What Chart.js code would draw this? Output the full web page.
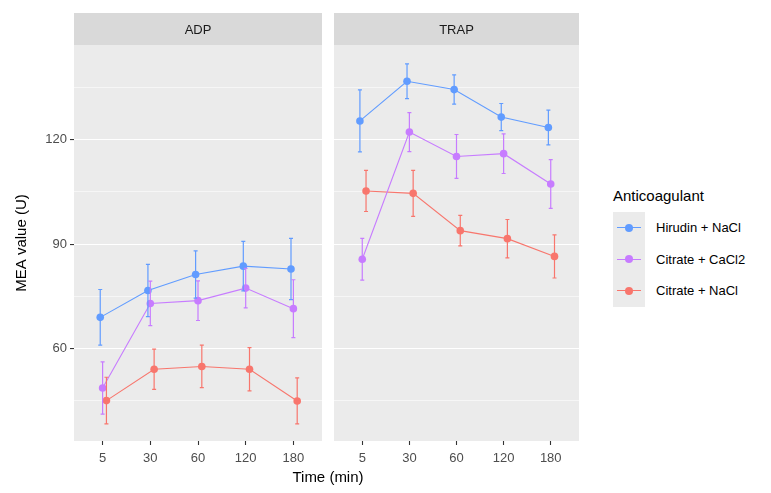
<!DOCTYPE html>
<html lang="en">
<head>
<meta charset="UTF-8">
<title>MEA value by time</title>
<script src="https://cdn.jsdelivr.net/npm/chart.js"></script>
<style>
  body { margin: 0; background: #fff; font-family: "Liberation Sans", Arial, sans-serif; }
  #wrap { position: relative; width: 771px; height: 493px; overflow: hidden; }
  .panel { position: absolute; top: 0; }
  #xtitle { position: absolute; left: 228px; width: 200px; top: 468px; text-align: center; font-size: 15px; color: #000; }
  #legend { position: absolute; left: 613px; top: 187px; }
  #legend .ttl { font-size: 15px; color: #000; height: 25px; line-height: 18px; }
  #legend .row { position: relative; height: 31.5px; }
  #legend .key { position: absolute; left: 0; top: 0; width: 32px; height: 31.5px; background: #ebebeb; }
  #legend .key i { position: absolute; left: 4px; top: 15px; width: 24px; height: 1.2px; }
  #legend .key b { position: absolute; left: 12px; top: 11.5px; width: 8px; height: 8px; border-radius: 50%; }
  #legend .lbl { position: absolute; left: 43px; top: 8px; font-size: 13px; color: #000; white-space: nowrap; }
</style>
</head>
<body>
<div id="wrap">
  <div class="panel" style="left:0"><canvas id="adp" width="326" height="493"></canvas></div>
  <div class="panel" style="left:330px"><canvas id="trap" width="253" height="493"></canvas></div>
  <div id="xtitle">Time (min)</div>
  <div id="legend"><div class="ttl">Anticoagulant</div></div>
</div>
<script>
const timeLabels = ['5', '30', '60', '120', '180'];
const groups = ['Hirudin + NaCl', 'Citrate + CaCl2', 'Citrate + NaCl'];
const colors = ['#619CFF', '#C77CFF', '#F8766D'];
const dodge = [-0.05, 0, 0.08];

// ADP panel: means and error half-widths
const adpHirudin = [69.0, 76.7, 81.3, 83.7, 82.9];
const adpHirudinErr = [8.0, 7.5, 6.8, 7.1, 8.8];
const adpCitCa = [48.7, 73.0, 73.8, 77.4, 71.5];
const adpCitCaErr = [7.5, 6.4, 5.7, 5.7, 8.3];
const adpCitNa = [45.1, 54.1, 54.9, 54.1, 45.0];
const adpCitNaErr = [6.7, 5.8, 6.1, 6.2, 6.6];

// TRAP panel
const trapHirudin = [125.4, 136.8, 134.4, 126.5, 123.5];
const trapHirudinErr = [8.9, 5.0, 4.2, 3.9, 5.0];
const trapCitCa = [85.7, 122.2, 115.2, 116.0, 107.3];
const trapCitCaErr = [6.0, 5.6, 6.3, 5.7, 7.0];
const trapCitNa = [105.3, 104.6, 93.9, 91.6, 86.5];
const trapCitNaErr = [5.9, 6.6, 4.4, 5.5, 6.2];

const yTicks = [45, 60, 75, 90, 105, 120, 135];
const yLabeled = [60, 90, 120];
const yMin = 33.5, yMax = 147.2;

const FONT = '"Liberation Sans", Arial, sans-serif';

function makeSets(series, errs) {
  return series.map((vals, k) => ({
    label: groups[k],
    data: vals.map((v, i) => ({ x: i + 1 + dodge[k], y: v })),
    err: errs[k],
    borderColor: colors[k],
    backgroundColor: colors[k],
    borderWidth: 1.1,
    pointRadius: 3.8,
    pointBorderWidth: 0,
    pointBackgroundColor: colors[k],
    tension: 0
  }));
}

// strip + panel background + error bars
const facetPlugin = {
  id: 'facet',
  beforeDraw(chart, args, opts) {
    const { ctx, chartArea: a } = chart;
    ctx.save();
    ctx.fillStyle = '#d9d9d9';
    ctx.fillRect(a.left, 13, a.right - a.left, a.top - 13);
    ctx.fillStyle = '#1a1a1a';
    ctx.font = '13px ' + FONT;
    ctx.textAlign = 'center';
    ctx.textBaseline = 'middle';
    ctx.fillText(opts.strip, (a.left + a.right) / 2, (13 + a.top) / 2 + 1);
    ctx.fillStyle = '#ebebeb';
    ctx.fillRect(a.left, a.top, a.right - a.left, a.bottom - a.top);
    ctx.restore();
  },
  afterDatasetsDraw(chart) {
    const { ctx, scales: { x, y } } = chart;
    ctx.save();
    chart.data.datasets.forEach((ds, k) => {
      ctx.strokeStyle = ds.borderColor;
      ctx.lineWidth = 1.2;
      ds.data.forEach((p, i) => {
        const px = x.getPixelForValue(p.x);
        const top = y.getPixelForValue(p.y + ds.err[i]);
        const bot = y.getPixelForValue(p.y - ds.err[i]);
        ctx.beginPath();
        ctx.moveTo(px, top); ctx.lineTo(px, bot);
        ctx.moveTo(px - 2, top); ctx.lineTo(px + 2, top);
        ctx.moveTo(px - 2, bot); ctx.lineTo(px + 2, bot);
        ctx.stroke();
      });
    });
    ctx.restore();
  }
};

function makeChart(id, strip, sets, showY) {
  return new Chart(document.getElementById(id), {
    type: 'line',
    data: { datasets: sets },
    plugins: [facetPlugin],
    options: {
      responsive: false,
      animation: false,
      layout: { padding: { top: 45, right: 2, left: 0, bottom: 0 } },
      plugins: { legend: { display: false }, tooltip: { enabled: false }, facet: { strip: strip } },
      scales: {
        x: {
          type: 'linear', min: 0.4, max: 5.6,
          afterBuildTicks: s => { s.ticks = timeLabels.map((t, i) => ({ value: i + 1 })); },
          afterFit: s => { s.height = 52; },
          border: { display: false },
          grid: { drawOnChartArea: false, tickLength: 4, tickColor: '#333', tickWidth: 1.1 },
          ticks: { padding: 6, color: '#4d4d4d', font: { family: FONT, size: 13 },
                   callback: v => timeLabels[v - 1] }
        },
        y: {
          type: 'linear', min: yMin, max: yMax,
          afterBuildTicks: s => { s.ticks = yTicks.map(v => ({ value: v })); },
          afterFit: s => { s.width = showY ? 74 : 0; },
          border: { display: false },
          grid: {
            color: '#ffffff',
            lineWidth: c => yLabeled.includes(c.tick.value) ? 1.1 : 0.55,
            drawTicks: showY, tickLength: 4, tickWidth: 1.1,
            tickColor: c => yLabeled.includes(c.tick.value) ? '#333' : 'rgba(0,0,0,0)'
          },
          ticks: { display: showY, padding: 3, color: '#4d4d4d', font: { family: FONT, size: 13 },
                   callback: v => yLabeled.includes(v) ? String(v) : '' },
          title: { display: showY, text: 'MEA value (U)', color: '#000',
                   font: { family: FONT, size: 15 }, padding: { top: 13 } }
        }
      }
    }
  });
}

makeChart('adp', 'ADP',
  makeSets([adpHirudin, adpCitCa, adpCitNa], [adpHirudinErr, adpCitCaErr, adpCitNaErr]), true);
makeChart('trap', 'TRAP',
  makeSets([trapHirudin, trapCitCa, trapCitNa], [trapHirudinErr, trapCitCaErr, trapCitNaErr]), false);

// legend
const leg = document.getElementById('legend');
groups.forEach((g, k) => {
  const row = document.createElement('div');
  row.className = 'row';
  row.innerHTML = '<div class="key"><i style="background:' + colors[k] + '"></i><b style="background:' +
    colors[k] + '"></b></div><div class="lbl">' + g + '</div>';
  leg.appendChild(row);
});
</script>
</body>
</html>
